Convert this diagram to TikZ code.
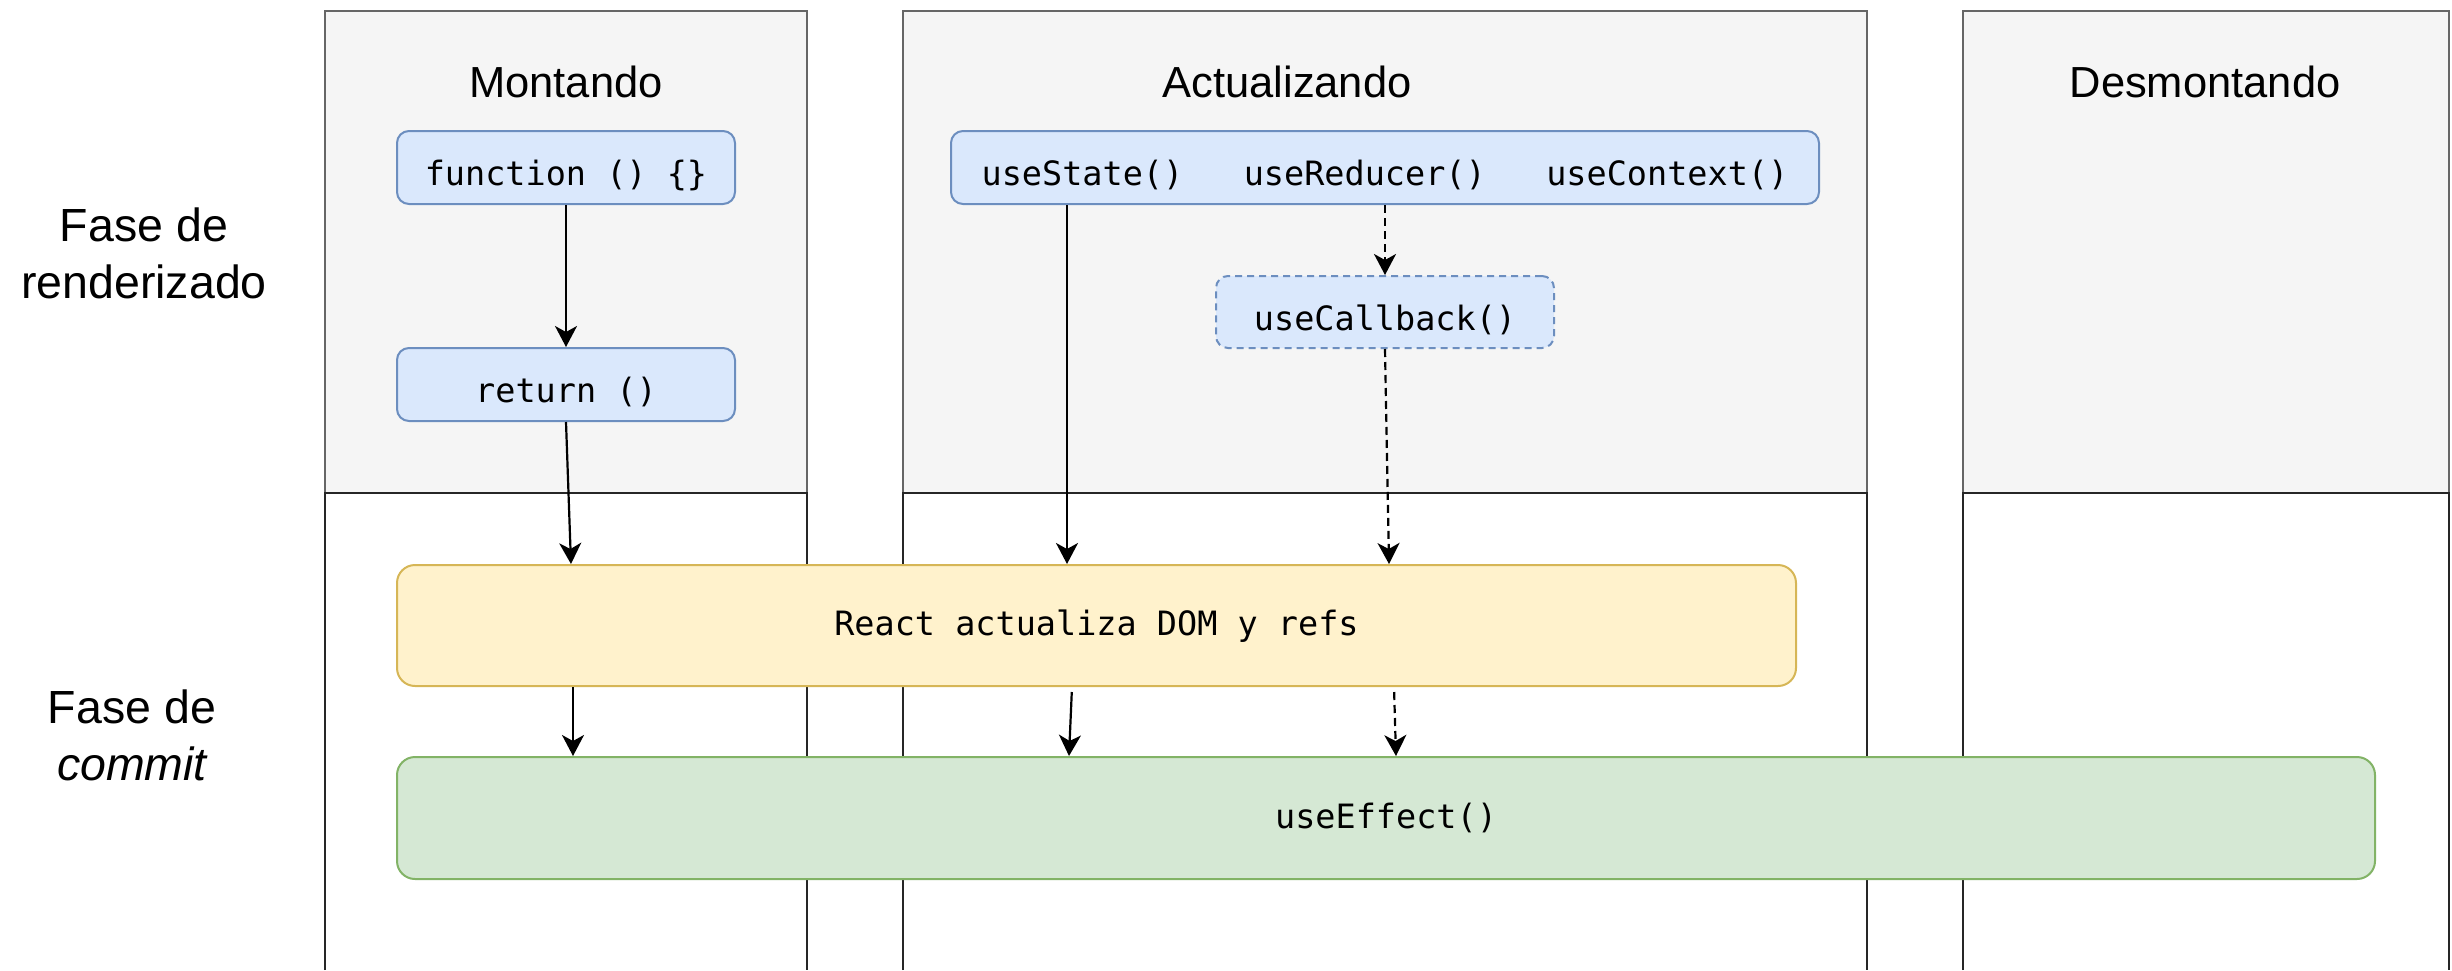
\documentclass[tikz,border=0pt]{standalone}
\usepackage{fontspec}
\setmainfont{Liberation Sans}
\newfontfamily\codefont{DejaVu Sans Mono}
\usetikzlibrary{arrows.meta}

\definecolor{lanefill}{HTML}{F5F5F5}
\definecolor{lanestroke}{HTML}{666666}
\definecolor{bluefill}{HTML}{DAE8FC}
\definecolor{bluestroke}{HTML}{6C8EBF}
\definecolor{yellowfill}{HTML}{FFF2CC}
\definecolor{yellowstroke}{HTML}{D6B656}
\definecolor{greenfill}{HTML}{D5E8D4}
\definecolor{greenstroke}{HTML}{82B366}

\tikzset{
  lanetop/.style={fill=lanefill, draw=lanestroke, line width=2pt},
  lanebot/.style={draw=black!85, line width=2pt},
  lanetitle/.style={font=\fontsize{43.5pt}{52pt}\selectfont, anchor=base, inner sep=0pt},
  phaselabel/.style={font=\fontsize{46.5pt}{56pt}\selectfont, anchor=base, inner sep=0pt},
  hookbox/.style={rounded corners=12pt, draw=bluestroke, fill=bluefill, line width=2pt,
    inner sep=0pt, font=\codefont\fontsize{33.5pt}{40pt}\selectfont,
    text height=36pt, text depth=0pt},
  optbox/.style={hookbox, dash pattern=on 7pt off 5pt},
  stagebox/.style={rounded corners=18pt, line width=2pt, inner sep=0pt,
    font=\codefont\fontsize{33.5pt}{40pt}\selectfont,
    text height=20pt, text depth=0pt},
  flow/.style={line width=2.2pt, draw=black,
    -{Stealth[length=21pt, width=22pt, inset=6pt]}},
  optflow/.style={flow, dash pattern=on 8pt off 5pt},
}

\begin{document}
\begin{tikzpicture}[x=1pt, y=-1pt]
\useasboundingbox (0,0) rectangle (2452,970);

% swimlanes: grey render half on top, white commit half below
\foreach \xa/\xb in {325/807, 903/1867, 1963/2449} {
  \draw[lanetop] (\xa,11) rectangle (\xb,493);
  \draw[lanebot] (\xa,970) -- (\xa,493) -- (\xb,493) -- (\xb,970);
}

% lane titles
\node[lanetitle] (tmount)  at (566,97)  {Montando};
\node[lanetitle] (tupdate) at (1287,97) {Actualizando};
\node[lanetitle] (tumount) at (2205,97) {Desmontando};

% phase labels
\node[phaselabel] (render1) at (144,241) {Fase de};
\node[phaselabel] (render2) at (144,298) {renderizado};
\node[phaselabel] (commit1) at (132,723) {Fase de};
\node[phaselabel] (commit2) at (132,780) {\itshape commit};

% hook boxes
\node[hookbox, minimum width=338pt, minimum height=73pt] (fn)  at (566,167.5) {function () \{\}};
\node[hookbox, minimum width=338pt, minimum height=73pt] (ret) at (566,384.5) {return ()};
\node[hookbox, minimum width=868pt, minimum height=73pt] (us)  at (1385,167.5)
  {useState()\ \ \ useReducer()\ \ \ useContext()};
\node[optbox, minimum width=338pt, minimum height=72pt] (cb) at (1385,312) {useCallback()};

% commit stages
\node[stagebox, draw=yellowstroke, fill=yellowfill, minimum width=1399pt, minimum height=121pt]
  (yel) at (1096.5,625.5) {React actualiza DOM y refs};
\node[stagebox, draw=greenstroke, fill=greenfill, minimum width=1978pt, minimum height=122pt]
  (grn) at (1386,818) {useEffect()};

% connector columns
\coordinate (xret) at (571,0);
\coordinate (xm)   at (573,0);
\coordinate (xs)   at (1067,0);
\coordinate (xsa)  at (1072,0);
\coordinate (xsb)  at (1069,0);
\coordinate (xd)   at (1389,0);
\coordinate (xda)  at (1394,0);
\coordinate (xdb)  at (1396,0);

% connectors
\draw[flow] (fn.south) -- (ret.north);
\draw[flow] (ret.south) -- (yel.north -| xret);
\draw[flow] (yel.south -| xm) -- (grn.north -| xm);
\draw[flow] (us.south -| xs) -- (yel.north -| xs);
\draw[flow, shorten <=5pt] (yel.south -| xsa) -- (grn.north -| xsb);
\draw[optflow] (us.south -| cb.north) -- (cb.north);
\draw[optflow] (cb.south) -- (yel.north -| xd);
\draw[optflow, shorten <=5pt] (yel.south -| xda) -- (grn.north -| xdb);
\end{tikzpicture}
\end{document}
